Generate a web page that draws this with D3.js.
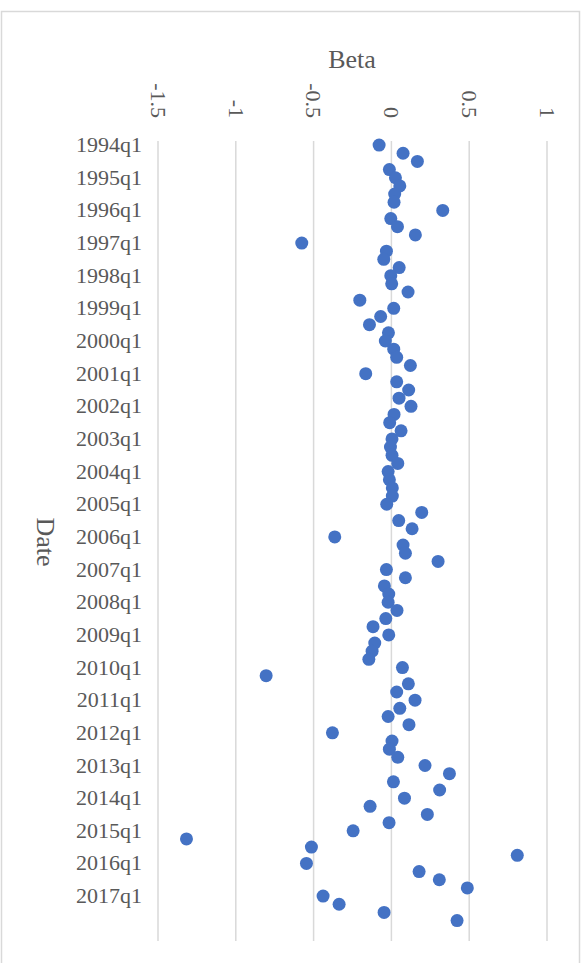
<!DOCTYPE html>
<html>
	<head>
		<meta charset="utf-8">
		<script type="text/javascript" src="https://d3js.org/d3.v7.min.js"></script>
		<style type="text/css">
			body {
				margin: 0;
				background: #ffffff;
			}
			text {
				font-family: "Liberation Serif", "Times New Roman", serif;
				fill: #595959;
			}
			.grid line {
				stroke: #d9d9d9;
				stroke-width: 1.5px;
			}
		</style>
	</head>
	<body>
		<script type="text/javascript">
			// quarters shown on the date axis (the last two have no value)
			var years = [1994, 1995, 1996, 1997, 1998, 1999, 2000, 2001, 2002, 2003, 2004, 2005,
				2006, 2007, 2008, 2009, 2010, 2011, 2012, 2013, 2014, 2015, 2016, 2017, 2018];
			var quarters = [];
			for (var i = 0; i < years.length; i++) {
				for (var q = 1; q <= 4; q++) {
					if (years[i] == 2018 && q > 2) break;
					quarters.push(years[i] + "q" + q);
				}
			}

			// beta per quarter, 1994q1 .. 2017q4
			var beta = [
				-0.079, 0.075, 0.167, -0.013, 0.026, 0.054, 0.021, 0.017,
				0.330, -0.004, 0.039, 0.154, -0.576, -0.032, -0.049, 0.050,
				-0.004, 0.002, 0.107, -0.203, 0.015, -0.069, -0.141, -0.019,
				-0.039, 0.015, 0.034, 0.122, -0.165, 0.034, 0.111, 0.049,
				0.126, 0.017, -0.011, 0.062, 0.004, -0.006, 0.004, 0.041,
				-0.021, -0.013, 0.006, 0.006, -0.030, 0.195, 0.047, 0.133,
				-0.364, 0.075, 0.090, 0.300, -0.032, 0.090, -0.045, -0.017,
				-0.021, 0.036, -0.036, -0.118, -0.017, -0.107, -0.124, -0.145,
				0.071, -0.805, 0.109, 0.034, 0.152, 0.054, -0.021, 0.113,
				-0.379, 0.004, -0.013, 0.041, 0.216, 0.373, 0.013, 0.310,
				0.084, -0.137, 0.231, -0.015, -0.246, -1.317, -0.514, 0.809,
				-0.546, 0.178, 0.308, 0.488, -0.439, -0.336, -0.047, 0.422
			];

			var betaTicks = [-1.5, -1, -0.5, 0, 0.5, 1];

			var width = 581;
			var height = 963;
			var plotTop = 141;
			var plotBottom = 941;

			var svg = d3.select("body")
				.append("svg")
				.attr("width", width)
				.attr("height", height);

			// chart border
			svg.append("rect")
				.attr("x", 1.5)
				.attr("y", 11.5)
				.attr("width", 578)
				.attr("height", 970)
				.attr("fill", "#ffffff")
				.attr("stroke", "#d9d9d9")
				.attr("stroke-width", 1.5);

			var x = d3.scaleLinear()
				.domain([-1.5, 1])
				.range([158, 547]);

			var y = d3.scaleBand()
				.domain(quarters)
				.range([plotTop, plotBottom]);

			// vertical gridlines
			svg.append("g")
				.attr("class", "grid")
				.selectAll("line")
				.data(betaTicks)
				.enter()
				.append("line")
				.attr("x1", function(d) { return x(d); })
				.attr("x2", function(d) { return x(d); })
				.attr("y1", plotTop)
				.attr("y2", plotBottom);

			// value axis on top, labels turned 90 degrees
			var xAxis = svg.append("g")
				.attr("transform", "translate(0," + plotTop + ")")
				.call(d3.axisTop(x).tickValues(betaTicks).tickSize(0)
					.tickFormat(function(d) { return String(d); }));
			xAxis.select(".domain").remove();
			xAxis.selectAll("text")
				.attr("x", 0)
				.attr("y", 0)
				.attr("dy", "0.35em")
				.attr("text-anchor", "end")
				.attr("transform", "translate(0,-23) rotate(90)")
				.style("font-size", "22px")
				.style("font-family", "'Liberation Serif', serif")
				.attr("fill", "#595959");

			// date axis, every fourth quarter labelled
			var yAxis = svg.append("g")
				.attr("transform", "translate(" + x(-1.5) + ",0)")
				.call(d3.axisLeft(y)
					.tickValues(quarters.filter(function(d, i) { return i % 4 == 0 && i < beta.length; }))
					.tickSize(0)
					.tickPadding(16));
			yAxis.select(".domain").remove();
			yAxis.selectAll("text")
				.style("font-size", "22px")
				.style("font-family", "'Liberation Serif', serif")
				.attr("fill", "#595959");

			// points
			svg.append("g")
				.selectAll("circle")
				.data(beta)
				.enter()
				.append("circle")
				.attr("cx", function(d) { return x(d); })
				.attr("cy", function(d, i) { return y(quarters[i]) + y.bandwidth() / 2; })
				.attr("r", 6.5)
				.attr("fill", "#4472c4");

			// titles
			svg.append("text")
				.text("Beta")
				.attr("x", 352)
				.attr("y", 68)
				.attr("text-anchor", "middle")
				.style("font-size", "26px");

			svg.append("text")
				.text("Date")
				.attr("text-anchor", "middle")
				.attr("transform", "translate(37,542) rotate(90)")
				.style("font-size", "26px");
		</script>
	</body>
</html>
